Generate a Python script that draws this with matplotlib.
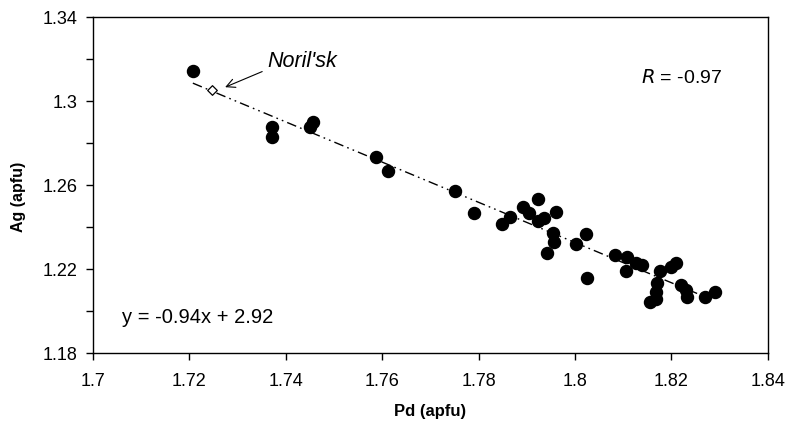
import numpy as np
import matplotlib
matplotlib.use('Agg')
import matplotlib.pyplot as plt
from matplotlib.ticker import FixedLocator

plt.rcParams['font.family'] = ['Liberation Sans', 'DejaVu Sans']

# Pd vs Ag (apfu)
pd_apfu = [1.7207, 1.7371, 1.7371, 1.7457, 1.7450, 1.7588, 1.7613,
           1.7751, 1.7790, 1.7848, 1.7866, 1.7893, 1.7905, 1.7924, 1.7924,
           1.7935, 1.7960, 1.7954, 1.7956, 1.7941, 1.8003, 1.8023, 1.8025,
           1.8083, 1.8107, 1.8106, 1.8126, 1.8140, 1.8177, 1.8200, 1.8209,
           1.8170, 1.8169, 1.8168, 1.8155, 1.8221, 1.8231, 1.8233, 1.8269,
           1.8290]
ag_apfu = [1.3144, 1.2878, 1.2830, 1.2901, 1.2878, 1.2735, 1.2668,
           1.2573, 1.2465, 1.2414, 1.2449, 1.2497, 1.2465, 1.2532, 1.2430,
           1.2441, 1.2473, 1.2370, 1.2329, 1.2275, 1.2321, 1.2367, 1.2160,
           1.2267, 1.2259, 1.2192, 1.2227, 1.2219, 1.2192, 1.2211, 1.2227,
           1.2132, 1.2092, 1.2060, 1.2044, 1.2124, 1.2100, 1.2065, 1.2065,
           1.2092]

norilsk_pd = 1.7246
norilsk_ag = 1.3052

x_ticks = [1.7, 1.72, 1.74, 1.76, 1.78, 1.8, 1.82, 1.84]
x_labels = ['1.7', '1.72', '1.74', '1.76', '1.78', '1.8', '1.82', '1.84']
y_ticks = [1.18, 1.22, 1.26, 1.3, 1.34]
y_labels = ['1.18', '1.22', '1.26', '1.3', '1.34']

fit = np.polyfit(pd_apfu, ag_apfu, 1)
line_x = np.array([min(pd_apfu), 1.826])

fig = plt.figure(figsize=(7.89, 4.25), dpi=100)
ax = fig.add_axes([0.118, 0.169, 0.855, 0.791])

ax.plot(line_x, np.polyval(fit, line_x), color='black', lw=1.0,
        dashes=(7, 3, 1.2, 3, 1.2, 3), zorder=1)
ax.scatter(pd_apfu, ag_apfu, s=75, color='black', zorder=3)
ax.scatter([norilsk_pd], [norilsk_ag], marker='D', s=24, facecolor='white',
           edgecolor='black', linewidth=0.9, zorder=4)

ax.annotate("Noril'sk", xy=(1.7274, 1.3066),
            xytext=(1.7362, 1.3186), fontsize=15.5, style='italic',
            va='center', ha='left',
            arrowprops=dict(arrowstyle='->', color='black', lw=0.8,
                            shrinkA=2, shrinkB=0, relpos=(0.0, 0.15)))

ax.text(1.8137, 1.3109, r'$\it{R}$ = -0.97', fontsize=14, va='center')
ax.text(1.7061, 1.1971, 'y = -0.94x + 2.92', fontsize=14.5, va='center')

ax.set_xlim(1.7, 1.84)
ax.set_ylim(1.18, 1.34)
ax.xaxis.set_major_locator(FixedLocator(x_ticks))
ax.yaxis.set_major_locator(FixedLocator(y_ticks))
ax.yaxis.set_minor_locator(FixedLocator([1.2, 1.24, 1.28, 1.32]))
ax.set_xticklabels(x_labels)
ax.set_yticklabels(y_labels)
ax.tick_params(axis='both', direction='out', length=5, width=1.0,
               labelsize=13, pad=6)
ax.tick_params(axis='x', pad=9)
ax.tick_params(axis='y', which='minor', direction='out', length=5, width=1.0)
for side in ax.spines.values():
    side.set_linewidth(1.0)

ax.set_xlabel('Pd (apfu)', fontsize=12, fontweight='bold')
ax.set_ylabel('Ag (apfu)', fontsize=11.5, fontweight='bold')
ax.xaxis.set_label_coords(0.5, -0.152)
ax.yaxis.set_label_coords(-0.100, 0.464)

fig.savefig('out.png', dpi=100)
